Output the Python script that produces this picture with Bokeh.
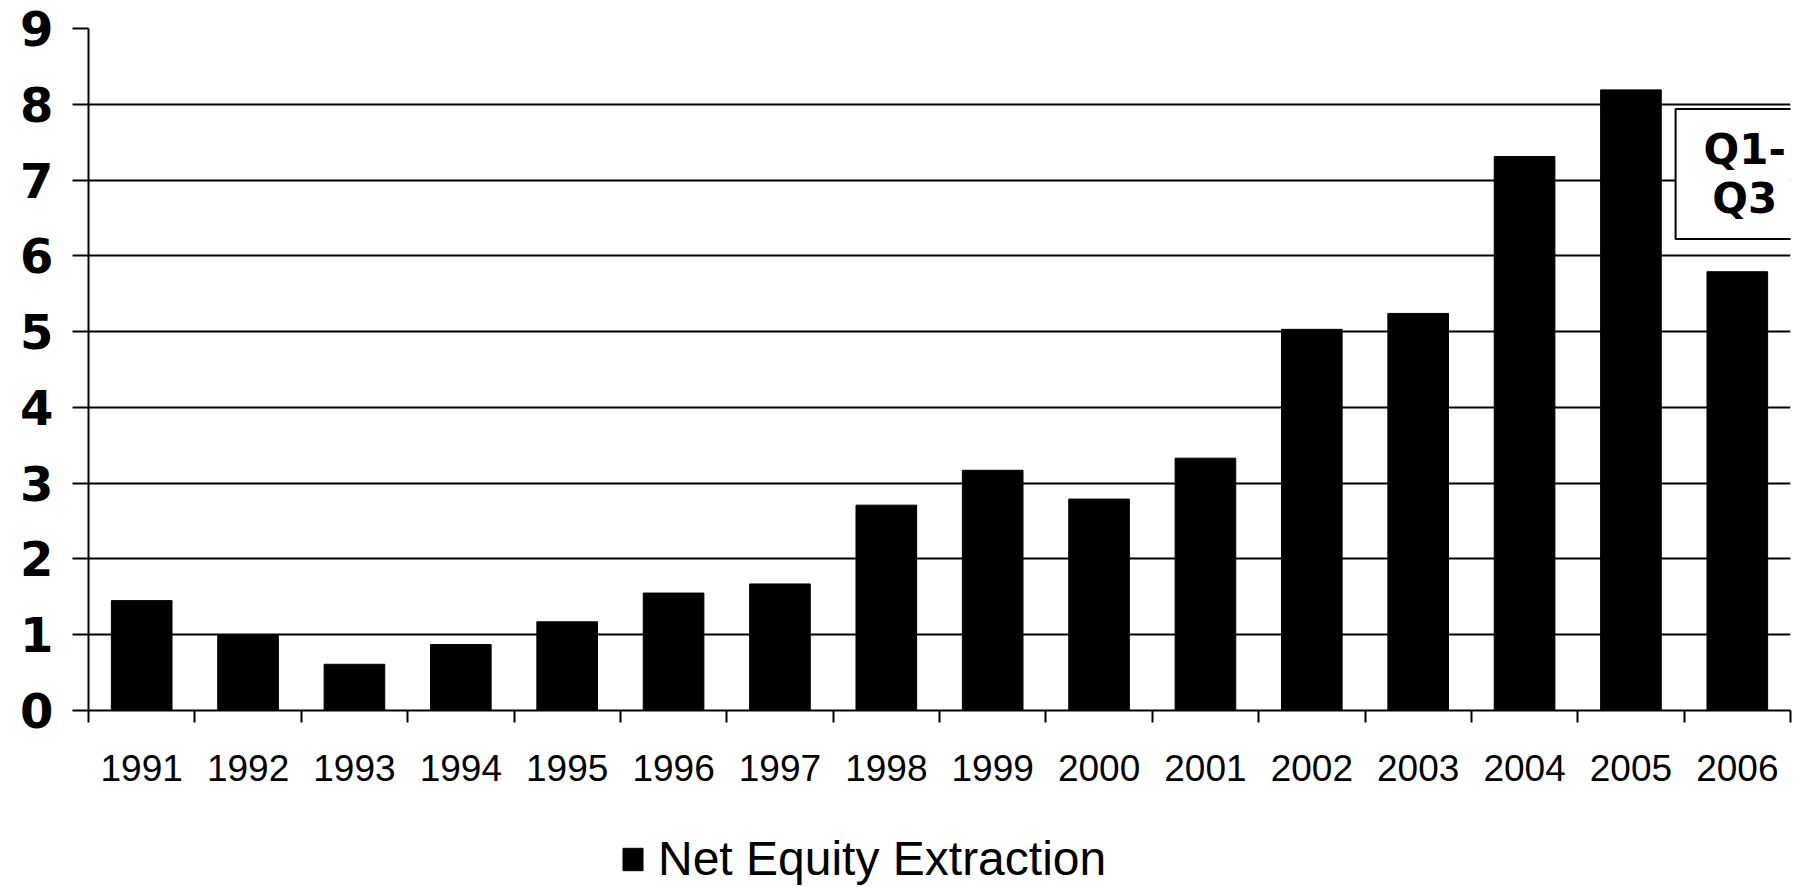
from bokeh.plotting import figure
from bokeh.layouts import column
from bokeh.models import FixedTicker, Legend, LegendItem, Label, Range1d
from bokeh.embed import file_html
from bokeh.resources import INLINE

# ---- data ----
years = ["1991", "1992", "1993", "1994", "1995", "1996", "1997", "1998",
         "1999", "2000", "2001", "2002", "2003", "2004", "2005", "2006"]
values = [1.45, 0.99, 0.61, 0.87, 1.17, 1.55, 1.67, 2.71,
          3.17, 2.79, 3.33, 5.03, 5.24, 7.31, 8.19, 5.79]
y_ticks = [0, 1, 2, 3, 4, 5, 6, 7, 8, 9]
series_name = "Net Equity Extraction"
note_text = "Q1-\nQ3"

xs = list(range(len(years)))
boundaries = [i - 0.5 for i in range(len(years) + 1)]

p = figure(frame_width=1702, frame_height=682, output_backend="svg",
           toolbar_location=None,
           x_range=Range1d(-0.5, len(years) - 0.5),
           y_range=Range1d(y_ticks[0], y_ticks[-1]),
           min_border_left=88, min_border_right=24, min_border_top=28,
           min_border_bottom=88)
p.outline_line_color = None
p.background_fill_color = "white"

r = p.vbar(x=xs, top=values, width=0.57, fill_color="black", line_color="black")

# x axis
xa = p.xaxis[0]
xa.ticker = FixedTicker(ticks=xs, minor_ticks=boundaries)
xa.major_label_overrides = {i: y for i, y in zip(xs, years)}
xa.major_tick_out = 0
xa.major_tick_in = 0
xa.minor_tick_out = 12
xa.minor_tick_in = 0
xa.minor_tick_line_color = "black"
xa.minor_tick_line_width = 2
xa.axis_line_color = "black"
xa.axis_line_width = 2
xa.major_label_text_font = "Liberation Sans"
xa.major_label_text_font_size = "37px"
xa.major_label_text_color = "black"
xa.major_label_standoff = 32

# y axis
ya = p.yaxis[0]
ya.ticker = FixedTicker(ticks=y_ticks, minor_ticks=[])
ya.major_tick_out = 16
ya.major_tick_in = 0
ya.major_tick_line_color = "black"
ya.major_tick_line_width = 2
ya.minor_tick_line_color = None
ya.axis_line_color = "black"
ya.axis_line_width = 2
ya.major_label_text_font = "DejaVu Sans"
ya.major_label_text_font_style = "bold"
ya.major_label_text_font_size = "48px"
ya.major_label_text_color = "black"
ya.major_label_standoff = 19

p.xgrid.grid_line_color = None
p.ygrid.grid_line_color = "black"
p.ygrid.grid_line_width = 2
p.ygrid.ticker = FixedTicker(ticks=y_ticks)

note = Label(x=15.07, y=7.08, text=note_text, text_align="center",
             text_baseline="middle", text_font="DejaVu Sans",
             text_font_style="bold", text_font_size="42px", text_color="black",
             text_line_height=1.0,
             border_line_color="black", border_line_width=2,
             background_fill_color="white", padding=(28, 16))
p.add_layout(note)

# ---- legend strip below the chart ----
p2 = figure(width=1814, height=88, output_backend="svg", toolbar_location=None,
            x_range=Range1d(-0.5, len(years) - 0.5),
            y_range=Range1d(y_ticks[0], y_ticks[-1]),
            x_axis_type=None, y_axis_type=None,
            min_border_left=0, min_border_right=0, min_border_top=0,
            min_border_bottom=0)
p2.outline_line_color = None
p2.grid.visible = False
r2 = p2.vbar(x=xs, top=values, width=0.57, fill_color="black",
             line_color="black", visible=False)

legend = Legend(items=[LegendItem(label=series_name, renderers=[r2])],
                location=(532, 0), orientation="horizontal",
                label_text_font="Liberation Sans", label_text_font_size="48px",
                label_text_color="black", glyph_width=25, glyph_height=28,
                label_standoff=13, border_line_color=None,
                background_fill_alpha=0, inactive_fill_alpha=0,
                margin=0, padding=0)
p2.add_layout(legend)

layout = column(p, p2, spacing=0)
open("out.html", "w").write(file_html(layout, INLINE))
